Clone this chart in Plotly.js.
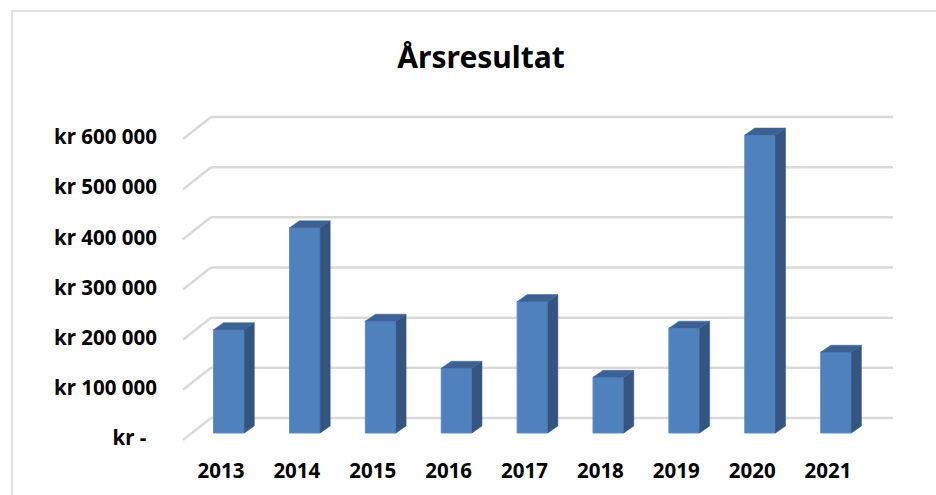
<!DOCTYPE html>
<html>
<head>
<meta charset="utf-8">
<script src="https://cdn.plot.ly/plotly-3.0.1.min.js"></script>
<style>html,body{margin:0;padding:0;background:#fff}#chart{width:936px;height:495px}</style>
</head>
<body>
<div id="chart"></div>
<script>
// Data
const years = ["2013","2014","2015","2016","2017","2018","2019","2020","2021"];
const results = [206000, 409000, 223000, 129000, 262000, 111000, 209000, 594000, 161000];
const tickValues = [0, 100000, 200000, 300000, 400000, 500000, 600000];
const tickLabels = ["kr -\u00a0\u00a0", "kr 100 000", "kr 200 000", "kr 300 000", "kr 400 000", "kr 500 000", "kr 600 000"];

// Layout geometry (pixels)
const W = 936, H = 495;
const plotL = 191, plotR = 874, plotT = 100, plotB = 450;
const zeroPx = 433;                       // bar plane baseline
const pxPerUnit = 301 / 600000;           // vertical scale
const yMin = -(plotB - zeroPx) / pxPerUnit;
const yMax = yMin + (plotB - plotT) / pxPerUnit;
const catPx = (plotR - plotL) / years.length;
const barW = 0.405;
const depthX = 10 / catPx;                // depth offset in category units
const depthY = 7 / pxPerUnit;             // depth offset in value units
const backOff = 15 / pxPerUnit;           // back wall offset
const frontOff = -7 / pxPerUnit;          // front edge offset
const px2paper = p => (p - plotL) / (plotR - plotL);

const idx = years.map((_, i) => i);
const traces = [{
  type: 'bar', x: idx, y: results, width: barW,
  marker: {color: '#4F81BD', line: {color: '#5B8CC6', width: 1}},
  hoverinfo: 'skip', showlegend: false
}];
results.forEach((v, i) => {
  const xr = i + barW / 2, xl = i - barW / 2;
  traces.push({
    type: 'scatter', mode: 'lines', fill: 'toself', fillcolor: '#33557F',
    line: {width: 0.5, color: '#33557F'},
    x: [xr, xr + depthX, xr + depthX, xr, xr],
    y: [0, depthY, v + depthY, v, 0],
    hoverinfo: 'skip', showlegend: false
  });
  traces.push({
    type: 'scatter', mode: 'lines', fill: 'toself', fillcolor: '#3C6293',
    line: {width: 0.5, color: '#3C6293'},
    x: [xl, xl + depthX, xr + depthX, xr, xl],
    y: [v, v + depthY, v + depthY, v, v],
    hoverinfo: 'skip', showlegend: false
  });
});

const shapes = [];
tickValues.forEach(t => {
  shapes.push({type: 'line', xref: 'paper', yref: 'y', layer: 'below',
    x0: px2paper(211), x1: px2paper(893), y0: t + backOff, y1: t + backOff,
    line: {color: '#D9D9D9', width: 2.5}});
  shapes.push({type: 'line', xref: 'paper', yref: 'y', layer: 'below',
    x0: px2paper(183), x1: px2paper(211), y0: t + frontOff, y1: t + backOff,
    line: {color: '#D9D9D9', width: 2.5}});
});
// outer chart frame
shapes.push({type: 'rect', xref: 'paper', yref: 'paper', layer: 'below',
  x0: px2paper(12), x1: px2paper(960), y0: (plotB - 520) / (plotB - plotT), y1: (plotB - 11) / (plotB - plotT),
  line: {color: '#D9D9D9', width: 1.5}, fillcolor: 'rgba(0,0,0,0)'});

const font = 'Noto Sans, Open Sans, sans-serif';
const layout = {
  width: W, height: H,
  margin: {l: plotL, r: W - plotR, t: plotT, b: H - plotB, pad: 0},
  paper_bgcolor: '#fff', plot_bgcolor: 'rgba(0,0,0,0)',
  title: {text: '<b>Årsresultat</b>', font: {family: font, size: 30, color: '#000'},
    x: 0.514, xanchor: 'center', y: 1 - 57 / H, yanchor: 'middle'},
  xaxis: {range: [-0.5, years.length - 0.5], tickmode: 'array', tickvals: idx, ticktext: years,
    showgrid: false, zeroline: false, showline: false, ticks: '',
    tickfont: {family: font, size: 20.5, color: '#000', weight: 'bold'},
    ticklabelshift: -8, ticklabelstandoff: 6, fixedrange: true},
  yaxis: {range: [yMin, yMax], tickmode: 'array', tickvals: tickValues, ticktext: tickLabels,
    showgrid: false, zeroline: false, showline: false, ticks: '',
    tickfont: {family: font, size: 20.5, color: '#000', weight: 'bold'},
    ticklabelshift: 5, ticklabelstandoff: 33, fixedrange: true},
  shapes: shapes,
  showlegend: false
};
Plotly.newPlot('chart', traces, layout, {displayModeBar: false, staticPlot: true});
</script>
</body>
</html>
